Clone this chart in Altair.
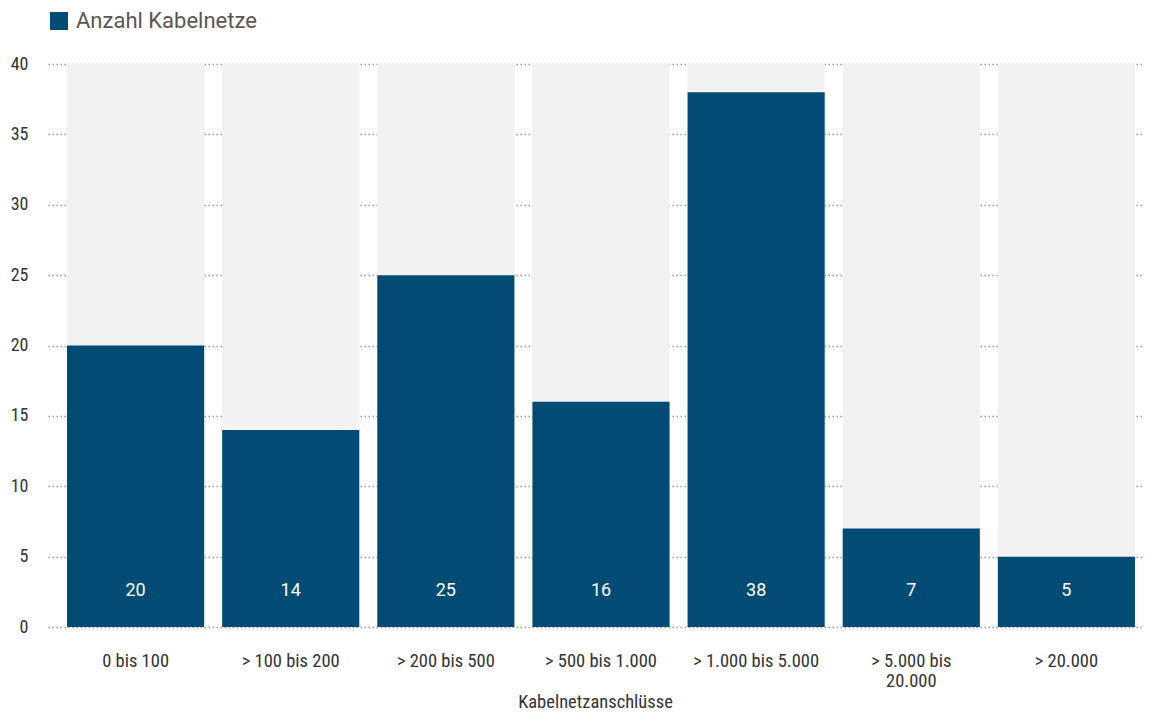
import altair as alt
import pandas as pd

categories = ["0 bis 100", "> 100 bis 200", "> 200 bis 500", "> 500 bis 1.000",
              "> 1.000 bis 5.000", "> 5.000 bis\n20.000", "> 20.000"]
values = [20, 14, 25, 16, 38, 7, 5]
series_name = "Anzahl Kabelnetze"
y_max = 40
y_ticks = [0, 5, 10, 15, 20, 25, 30, 35, 40]

df = pd.DataFrame({"cat": categories, "value": values, "series": [series_name] * len(values),
                   "top": [y_max] * len(values)})

COND = "Roboto Condensed, Liberation Sans Narrow, Roboto, sans-serif"
REG = "Roboto, Liberation Sans, sans-serif"
BLUE = "#024b75"

x = alt.X("cat:N", sort=categories, title="Kabelnetzanschlüsse",
          scale=alt.Scale(paddingInner=0.116, paddingOuter=0.084, align=0.73),
          axis=alt.Axis(labelAngle=0, domain=False, ticks=False, labelPadding=24,
                        labelFont=COND, labelFontSize=18.5, labelColor="#333333",
                        labelExpr="split(datum.label, '\\n')", labelLineHeight=20,
                        titleFont=COND, titleFontSize=18.5, titleFontWeight="normal",
                        titleColor="#333333", titleBaseline="alphabetic", titleY=80))

y_axis = alt.Axis(values=y_ticks, domain=False, ticks=False, labelPadding=20,
                  labelFont=COND, labelFontSize=18, labelColor="#333333", title=None,
                  grid=True, gridColor="#9a9a9a", gridDash=[1.5, 2.5], gridWidth=1.5)

bg = alt.Chart(df).mark_bar(color="#f2f2f2").encode(
    x=x,
    y=alt.Y("top:Q", scale=alt.Scale(domain=[0, y_max], nice=False), axis=y_axis),
)

bars = alt.Chart(df).mark_bar().encode(
    x=x,
    y=alt.Y("value:Q"),
    color=alt.Color("series:N", scale=alt.Scale(domain=[series_name], range=[BLUE]),
                    legend=alt.Legend(title=None, orient="none", legendX=0, legendY=-54,
                                      padding=0, symbolType="square", symbolSize=324,
                                      symbolStrokeWidth=0, symbolOpacity=1,
                                      labelFont=REG, labelFontSize=22, labelColor="#5b5651",
                                      labelOffset=6, labelLimit=500)),
)

labels = alt.Chart(df).mark_text(color="white", font=REG, fontSize=18, baseline="middle").encode(
    x=x,
    y=alt.value(527),
    text="value:Q",
)

chart = alt.layer(bg, bars, labels).properties(
    width=1094, height=563,
    autosize=alt.AutoSizeParams(type="none"),
    padding={"left": 40, "top": 56, "right": 0, "bottom": 86},
).configure_view(stroke=None)

chart.save("out.html", embed_options={"renderer": "svg", "actions": False})
